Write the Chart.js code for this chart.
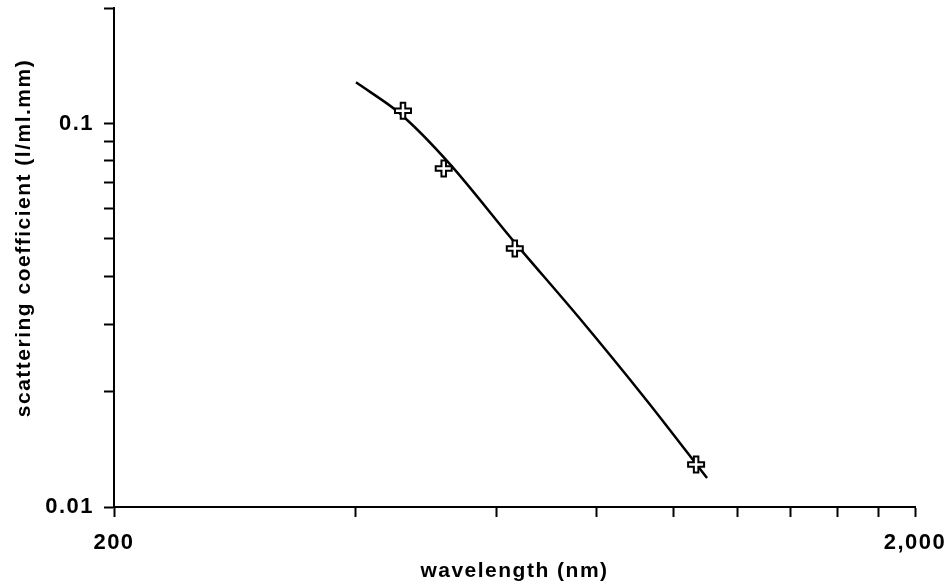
<!DOCTYPE html>
<html lang="en">
<head>
    <meta charset="UTF-8">
    <title>Scattering coefficient vs wavelength</title>
    <script src="https://cdn.jsdelivr.net/npm/chart.js"></script>
    <style>
        html, body { margin: 0; padding: 0; background: #fff; }
        .chart-box { width: 952px; height: 583px; position: relative; }
    </style>
</head>
<body>
<div class="chart-box">
    <canvas id="scatterChart"></canvas>
</div>

<script>
    // fitted curve
    var curveWavelength = [401, 455, 526, 630, 763, 926, 1100];
    var curveScatter = [0.128, 0.1062, 0.0781, 0.0495, 0.031, 0.0189, 0.0119];

    // measured points (crosses)
    var measWavelength = [459, 516, 633, 1066];
    var measScatter = [0.108, 0.0763, 0.0472, 0.0129];

    // axis ticks and the few labelled ones
    var xTicks = [200, 400, 600, 800, 1000, 1200, 1400, 1600, 1800, 2000];
    var xTickLabels = { 200: '200', 2000: '2,000' };
    var yTicks = [0.01, 0.02, 0.03, 0.04, 0.05, 0.06, 0.07, 0.08, 0.09, 0.1, 0.2];
    var yTickLabels = { 0.01: '0.01', 0.1: '0.1' };

    var xTitle = 'wavelength (nm)';
    var yTitle = 'scattering coefficient (l/ml.mm)';

    function pairs(xs, ys) {
        var out = [];
        for (var i = 0; i < xs.length; i++) {
            out.push({ x: xs[i], y: ys[i] });
        }
        return out;
    }

    var labelFont = { family: '"Liberation Sans", Arial, sans-serif', size: 22, weight: 'bold' };

    // letter spacing like the old typewritten figure + hand drawn axis titles
    var titlesPlugin = {
        id: 'titles',
        beforeDraw: function (chart) {
            chart.ctx.letterSpacing = '1.5px';
        },
        afterDraw: function (chart) {
            var ctx = chart.ctx;
            var area = chart.chartArea;
            ctx.save();
            ctx.fillStyle = '#000';
            ctx.font = 'bold 21px "Liberation Sans", Arial, sans-serif';
            ctx.letterSpacing = '1.5px';
            ctx.textAlign = 'center';
            ctx.textBaseline = 'middle';
            ctx.fillText(xTitle, (area.left + area.right) / 2, area.bottom + 64);
            ctx.translate(24, 238);
            ctx.rotate(-Math.PI / 2);
            ctx.fillText(yTitle, 0, 0);
            ctx.restore();
        }
    };

    var ctx = document.getElementById('scatterChart').getContext('2d');
    var myChart = new Chart(ctx, {
        type: 'scatter',
        data: {
            datasets: [
                {
                    label: 'measured (inner)',
                    data: pairs(measWavelength, measScatter),
                    pointStyle: 'cross',
                    pointRadius: 7,
                    borderColor: '#fff',
                    borderWidth: 2.5,
                    showLine: false
                },
                {
                    label: 'measured',
                    data: pairs(measWavelength, measScatter),
                    pointStyle: 'cross',
                    pointRadius: 9,
                    borderColor: '#000',
                    borderWidth: 6.5,
                    showLine: false
                },
                {
                    label: 'fit',
                    data: pairs(curveWavelength, curveScatter),
                    showLine: true,
                    borderColor: '#000',
                    borderWidth: 2.5,
                    pointRadius: 0,
                    tension: 0.3
                }
            ]
        },
        options: {
            responsive: true,
            maintainAspectRatio: false,
            animation: false,
            layout: { autoPadding: false, padding: { left: 0, right: 37, top: 8, bottom: 0 } },
            plugins: {
                legend: { display: false },
                tooltip: { enabled: false }
            },
            scales: {
                x: {
                    type: 'logarithmic',
                    min: 200,
                    max: 2000,
                    afterBuildTicks: function (scale) {
                        scale.ticks = xTicks.map(function (v) { return { value: v }; });
                    },
                    afterFit: function (scale) {
                        scale.height = 76;
                        scale.paddingLeft = 0;
                        scale.paddingRight = 0;
                    },
                    ticks: {
                        autoSkip: false,
                        maxRotation: 0,
                        padding: 13,
                        color: '#000',
                        font: labelFont,
                        callback: function (v) { return xTickLabels[v] || ''; }
                    },
                    grid: { drawOnChartArea: false, drawTicks: true, tickLength: 10, tickWidth: 2, color: '#000' },
                    border: { display: true, color: '#000', width: 2 }
                },
                y: {
                    type: 'logarithmic',
                    min: 0.01,
                    max: 0.2,
                    afterBuildTicks: function (scale) {
                        scale.ticks = yTicks.map(function (v) { return { value: v }; });
                    },
                    afterFit: function (scale) {
                        scale.width = 114;
                        scale.paddingTop = 0;
                        scale.paddingBottom = 0;
                    },
                    ticks: {
                        autoSkip: false,
                        padding: 10,
                        color: '#000',
                        font: labelFont,
                        callback: function (v) { return yTickLabels[v] || ''; }
                    },
                    grid: { drawOnChartArea: false, drawTicks: true, tickLength: 10, tickWidth: 2, color: '#000' },
                    border: { display: true, color: '#000', width: 2 }
                }
            }
        },
        plugins: [titlesPlugin]
    });
</script>
</body>
</html>
